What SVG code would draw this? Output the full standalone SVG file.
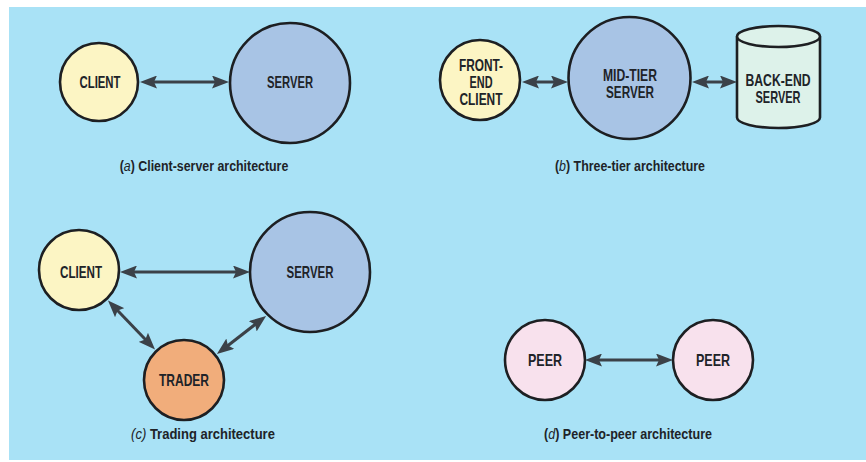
<svg xmlns="http://www.w3.org/2000/svg" width="866" height="462" viewBox="0 0 866 462">
<style>
.bg{fill:#a9e2f6}
.node{stroke:#1d1f22;stroke-width:2.6}
.client{fill:#fcf5c4}
.server{fill:#a8c4e5}
.trader{fill:#f1ad7b}
.peer{fill:#f8e1ed}
.db{fill:#ddf2ea}
.lbl{font-family:"Liberation Sans Narrow","Arial Narrow","Liberation Sans",Arial,sans-serif;font-weight:bold;font-size:16.5px;fill:#202328;text-anchor:middle}
.cap{font-family:"Liberation Sans",Arial,sans-serif;font-weight:bold;font-size:15.5px;fill:#202328;text-anchor:middle}
.it{font-style:italic;font-weight:normal}
.arr{stroke:#3b4148;stroke-width:3;fill:none;marker-start:url(#ah);marker-end:url(#ah)}
</style>
<defs>
<marker id="ah" viewBox="0 0 17 13" refX="9" refY="6.5" markerWidth="17" markerHeight="13" markerUnits="userSpaceOnUse" orient="auto-start-reverse">
<path d="M0,0 L17,6.5 L0,13 L3,6.5 Z" fill="#3b4148"/>
</marker>
</defs>
<rect class="bg" x="9" y="7" width="857" height="453"/>

<g id="connectors">
<line class="arr" x1="148" y1="82" x2="221" y2="82"/>
<line class="arr" x1="530" y1="82" x2="560" y2="82"/>
<line class="arr" x1="700" y1="82" x2="729" y2="82"/>
<line class="arr" x1="128" y1="272" x2="242" y2="272"/>
<line class="arr" x1="113.5" y1="306.2" x2="149.5" y2="343.8"/>
<line class="arr" x1="223.2" y1="349.2" x2="259.8" y2="320.8"/>
<line class="arr" x1="593" y1="360" x2="665" y2="360"/>
</g>

<g id="a-client"><circle class="node client" cx="99" cy="82" r="39"/><text class="lbl" x="100" y="88" textLength="41" lengthAdjust="spacingAndGlyphs">CLIENT</text></g>
<g id="a-server"><circle class="node server" cx="290" cy="83" r="60"/><text class="lbl" x="290" y="88" textLength="46" lengthAdjust="spacingAndGlyphs">SERVER</text></g>
<text class="cap" transform="translate(204,171) scale(0.8,1)">(<tspan class="it">a</tspan>) Client-server architecture</text>

<g id="b-client"><circle class="node client" cx="480" cy="80" r="40"/>
<text class="lbl" x="481" y="71" textLength="44" lengthAdjust="spacingAndGlyphs">FRONT-</text>
<text class="lbl" x="481" y="88" textLength="23" lengthAdjust="spacingAndGlyphs">END</text>
<text class="lbl" x="481" y="105" textLength="43" lengthAdjust="spacingAndGlyphs">CLIENT</text></g>
<g id="b-midtier"><circle class="node server" cx="629.5" cy="78" r="61"/>
<text class="lbl" x="630" y="81" textLength="54" lengthAdjust="spacingAndGlyphs">MID-TIER</text>
<text class="lbl" x="630" y="98" textLength="48" lengthAdjust="spacingAndGlyphs">SERVER</text></g>
<g id="b-backend"><path class="node db" d="M737,36.5 V117.5 A41.5,10.5 0 0 0 820,117.5 V36.5"/><ellipse class="node db" cx="778.5" cy="36.5" rx="41.5" ry="10.5"/>
<text class="lbl" x="778" y="86" textLength="65" lengthAdjust="spacingAndGlyphs">BACK-END</text>
<text class="lbl" x="778" y="103" textLength="45" lengthAdjust="spacingAndGlyphs">SERVER</text></g>
<text class="cap" transform="translate(630,171) scale(0.8,1)">(<tspan class="it">b</tspan>) Three-tier architecture</text>

<g id="c-client"><circle class="node client" cx="79" cy="270" r="40"/><text class="lbl" x="81" y="278" textLength="42" lengthAdjust="spacingAndGlyphs">CLIENT</text></g>
<g id="c-server"><circle class="node server" cx="310" cy="272" r="60"/><text class="lbl" x="310" y="278" textLength="47" lengthAdjust="spacingAndGlyphs">SERVER</text></g>
<g id="c-trader"><circle class="node trader" cx="184" cy="380" r="40"/><text class="lbl" x="184" y="386" textLength="50" lengthAdjust="spacingAndGlyphs">TRADER</text></g>
<text class="cap" transform="translate(203,439) scale(0.84,1)"><tspan class="it">(c)</tspan> Trading architecture</text>

<g id="d-peer1"><circle class="node peer" cx="545" cy="360" r="40"/><text class="lbl" x="545" y="366" textLength="34" lengthAdjust="spacingAndGlyphs">PEER</text></g>
<g id="d-peer2"><circle class="node peer" cx="713" cy="360" r="40"/><text class="lbl" x="713" y="366" textLength="34" lengthAdjust="spacingAndGlyphs">PEER</text></g>
<text class="cap" transform="translate(628,439) scale(0.81,1)">(<tspan class="it">d</tspan>) Peer-to-peer architecture</text>
</svg>
